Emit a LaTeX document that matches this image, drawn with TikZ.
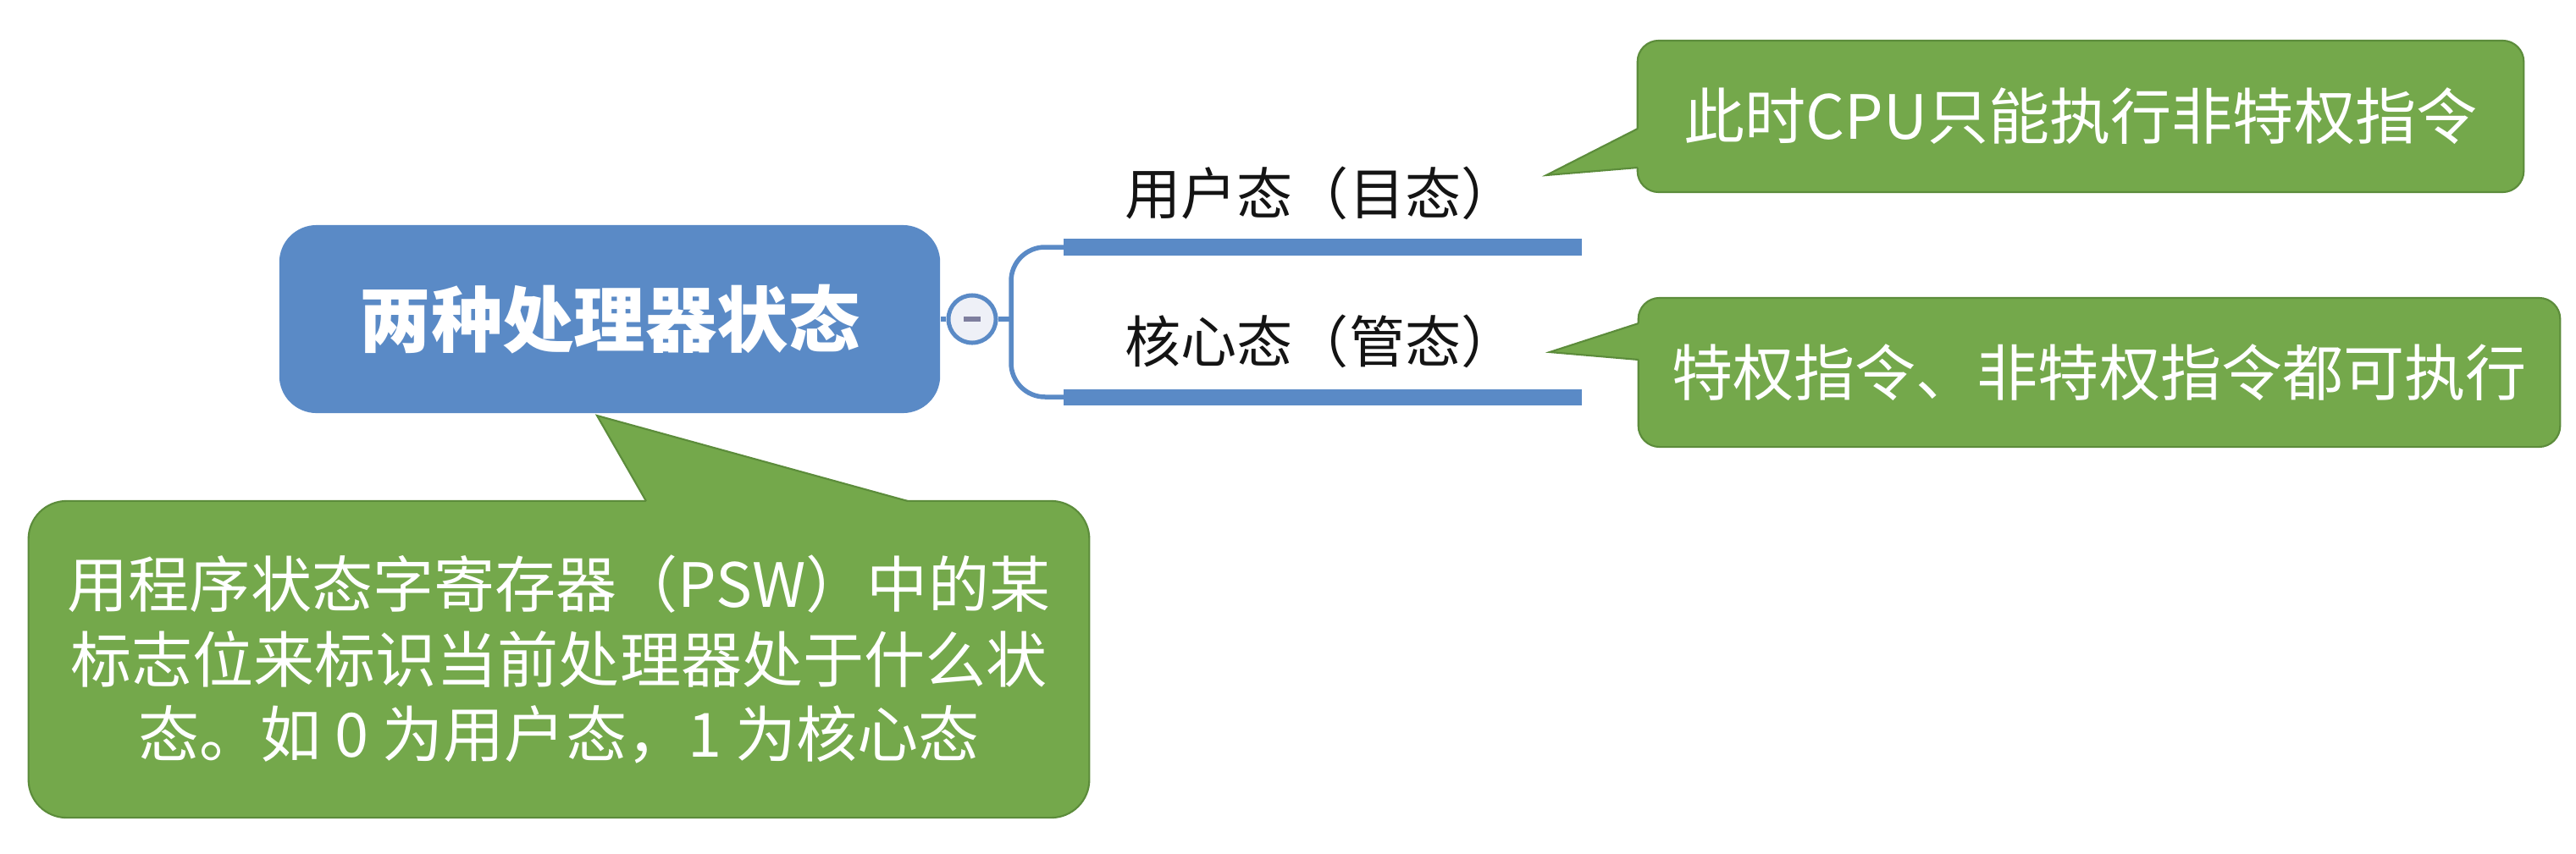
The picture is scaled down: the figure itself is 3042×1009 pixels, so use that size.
\documentclass[tikz,border=0pt]{standalone}
\usepackage{fontspec}
\setmainfont{Noto Sans CJK SC}
\definecolor{topicblue}{HTML}{5A8AC6}
\definecolor{calgreen}{HTML}{74A84B}
\definecolor{calborder}{HTML}{5C8C3B}
\definecolor{collapsefill}{HTML}{EEF0F7}
\definecolor{minusgray}{HTML}{7E7E9E}
\tikzset{
  titlebox/.style={fill=topicblue, rounded corners=0.44cm, minimum width=7.8cm, minimum height=2.22cm, text=white, font=\fontsize{24pt}{28pt}\selectfont\bfseries, inner sep=0},
  calloutbox/.style={fill=calgreen, draw=calborder, line width=0.6pt, rounded corners=0.25cm, text=white, font=\fontsize{20.5pt}{25pt}\selectfont, inner sep=0, align=center},
  pointerfill/.style={fill=calgreen},
  pointeredge/.style={draw=calborder, line width=0.6pt, line join=miter},
  sublabel/.style={text=black!92, font=\fontsize{18.8pt}{22pt}\selectfont, inner sep=0},
  bar/.style={draw=topicblue, line width=0.19cm},
  link/.style={draw=topicblue, line width=0.055cm},
}
\begin{document}
\begin{tikzpicture}[x=0.01cm,y=-0.01cm]
\useasboundingbox (0,0) rectangle (3042,1009);
% root topic
\node[titlebox] (root) at (720,377) {两种处理器状态};
% collapse button
\node[circle, draw=topicblue, line width=0.05cm, fill=collapsefill, minimum size=0.56cm, inner sep=0] (fold) at (1148,377) {};
\draw[line width=0.06cm, draw=minusgray] ([xshift=-0.1cm]fold.center) -- ([xshift=0.1cm]fold.center);
\draw[link] (root.east) -- (fold.west);
% branches
\coordinate (b1s) at (1256,292); \coordinate (b1e) at (1868,292);
\coordinate (b2s) at (1256,469); \coordinate (b2e) at (1868,469);
\coordinate (fork) at (1194,377);
\draw[link] (fold.east) -- (fork);
\draw[link, rounded corners=0.4cm] (b1s) -| (fork) |- (b2s);
\draw[bar] (b1s) -- (b1e);
\draw[bar] (b2s) -- (b2e);
\node[sublabel] (user) at (1560,228) {用户态（目态）};
\node[sublabel] (kernel) at (1560,403) {核心态（管态）};
% callout 1
\node[calloutbox, minimum width=10.46cm, minimum height=1.79cm] (c1) at (2457,137.5) {此时CPU只能执行非特权指令};
\coordinate (t1) at (1826,207);
\fill[pointerfill] (1934,152) -- (t1) -- (1934,198) -- (1939,198) -- (1939,152) -- cycle;
\draw[pointeredge] (1934,152) -- (t1) -- (1934,198);
% callout 2
\node[calloutbox, minimum width=10.88cm, minimum height=1.76cm] (c2) at (2479,440) {特权指令、非特权指令都可执行};
\coordinate (t2) at (1830,416);
\fill[pointerfill] (1935,382) -- (t2) -- (1935,425) -- (1940,425) -- (1940,382) -- cycle;
\draw[pointeredge] (1935,382) -- (t2) -- (1935,425);
% callout 3
\node[calloutbox, rounded corners=0.45cm, minimum width=12.52cm, minimum height=3.74cm, font=\fontsize{20.5pt}{25.2pt}\selectfont] (c3) at (660,779) {用程序状态字寄存器（PSW）中的某\\标志位来标识当前处理器处于什么状\\态。如 0 为用户态，1 为核心态};
\coordinate (t3) at (705,491);
\fill[pointerfill] (763,592) -- (t3) -- (1072,592) -- (1072,597) -- (763,597) -- cycle;
\draw[pointeredge] (763,592) -- (t3) -- (1072,592);
\end{tikzpicture}
\end{document}
